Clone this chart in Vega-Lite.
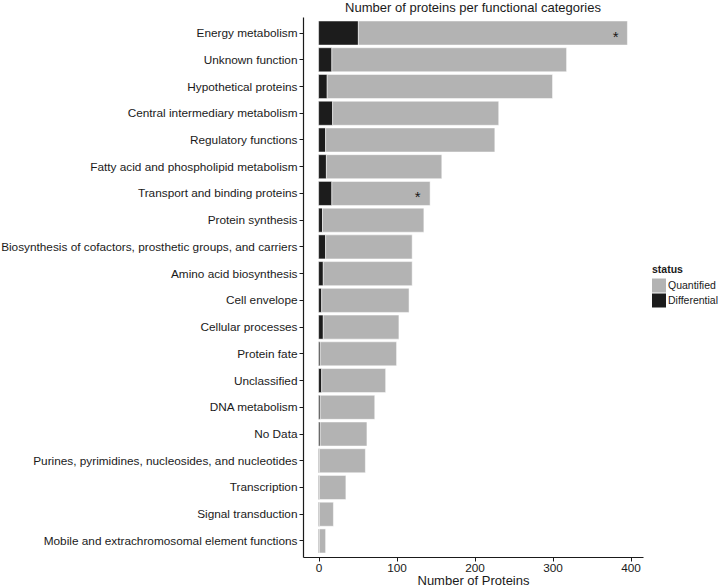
{
  "$schema": "https://vega.github.io/schema/vega-lite/v6.json",
  "width": 340,
  "height": 540,
  "padding": {"left": 0, "top": 2, "right": 0, "bottom": 0},
  "background": "white",
  "title": {"text": "Number of proteins per functional categories", "font": "Liberation Sans", "fontSize": 13, "fontWeight": "normal", "color": "#1a1a1a", "anchor": "middle", "offset": 2},
  "config": {
    "font": "Liberation Sans",
    "view": {"stroke": null},
    "axis": {"grid": false, "domainColor": "#1a1a1a", "domainWidth": 1.2, "tickColor": "#1a1a1a", "labelColor": "#1a1a1a", "labelFont": "Liberation Sans", "labelFontSize": 11.8, "titleFont": "Liberation Sans", "titleFontWeight": "normal", "titleColor": "#1a1a1a", "tickSize": 4, "labelPadding": 2}
  },
  "datasets": {
    "counts": [
      {"category": "Energy metabolism", "status": "Differential", "count": 51},
      {"category": "Energy metabolism", "status": "Quantified", "count": 345},
      {"category": "Unknown function", "status": "Differential", "count": 17},
      {"category": "Unknown function", "status": "Quantified", "count": 301},
      {"category": "Hypothetical proteins", "status": "Differential", "count": 11},
      {"category": "Hypothetical proteins", "status": "Quantified", "count": 289},
      {"category": "Central intermediary metabolism", "status": "Differential", "count": 18},
      {"category": "Central intermediary metabolism", "status": "Quantified", "count": 213},
      {"category": "Regulatory functions", "status": "Differential", "count": 9},
      {"category": "Regulatory functions", "status": "Quantified", "count": 217},
      {"category": "Fatty acid and phospholipid metabolism", "status": "Differential", "count": 10},
      {"category": "Fatty acid and phospholipid metabolism", "status": "Quantified", "count": 148},
      {"category": "Transport and binding proteins", "status": "Differential", "count": 17},
      {"category": "Transport and binding proteins", "status": "Quantified", "count": 126},
      {"category": "Protein synthesis", "status": "Differential", "count": 5},
      {"category": "Protein synthesis", "status": "Quantified", "count": 130},
      {"category": "Biosynthesis of cofactors, prosthetic groups, and carriers", "status": "Differential", "count": 9},
      {"category": "Biosynthesis of cofactors, prosthetic groups, and carriers", "status": "Quantified", "count": 111},
      {"category": "Amino acid biosynthesis", "status": "Differential", "count": 6},
      {"category": "Amino acid biosynthesis", "status": "Quantified", "count": 114},
      {"category": "Cell envelope", "status": "Differential", "count": 4},
      {"category": "Cell envelope", "status": "Quantified", "count": 112},
      {"category": "Cellular processes", "status": "Differential", "count": 6},
      {"category": "Cellular processes", "status": "Quantified", "count": 97},
      {"category": "Protein fate", "status": "Differential", "count": 2},
      {"category": "Protein fate", "status": "Quantified", "count": 98},
      {"category": "Unclassified", "status": "Differential", "count": 4},
      {"category": "Unclassified", "status": "Quantified", "count": 82},
      {"category": "DNA metabolism", "status": "Differential", "count": 2},
      {"category": "DNA metabolism", "status": "Quantified", "count": 70},
      {"category": "No Data", "status": "Differential", "count": 2},
      {"category": "No Data", "status": "Quantified", "count": 60},
      {"category": "Purines, pyrimidines, nucleosides, and nucleotides", "status": "Differential", "count": 1},
      {"category": "Purines, pyrimidines, nucleosides, and nucleotides", "status": "Quantified", "count": 59},
      {"category": "Transcription", "status": "Differential", "count": 1},
      {"category": "Transcription", "status": "Quantified", "count": 34},
      {"category": "Signal transduction", "status": "Differential", "count": 1},
      {"category": "Signal transduction", "status": "Quantified", "count": 18},
      {"category": "Mobile and extrachromosomal element functions", "status": "Differential", "count": 1},
      {"category": "Mobile and extrachromosomal element functions", "status": "Quantified", "count": 8}
    ],
    "marks": [
      {"category": "Energy metabolism", "at": 381, "label": "*"},
      {"category": "Transport and binding proteins", "at": 127, "label": "*"}
    ]
  },
  "layer": [
    {
      "data": {"name": "counts"},
      "mark": {"type": "bar", "stroke": "white", "strokeWidth": 0.5},
      "encoding": {
        "y": {"field": "category", "type": "nominal", "sort": null,
              "scale": {"paddingInner": 0.1, "paddingOuter": 0.15},
              "axis": {"title": null, "labelLimit": 0}},
        "x": {"field": "count", "type": "quantitative", "stack": "zero",
              "scale": {"domain": [-20, 416], "nice": false, "zero": false},
              "axis": {"title": "Number of Proteins", "titleFontSize": 13, "values": [0, 100, 200, 300, 400], "titlePadding": 1, "labelPadding": 1}},
        "order": {"field": "status", "sort": "ascending"},
        "color": {"field": "status", "type": "nominal",
                  "scale": {"domain": ["Quantified", "Differential"], "range": ["#b3b3b3", "#1c1c1c"]},
                  "legend": {"title": "status", "orient": "none", "legendX": 349, "legendY": 248, "symbolType": "square", "symbolSize": 196, "symbolStrokeWidth": 0, "titleFontSize": 10.5, "titleFontWeight": "bold", "titleColor": "#1a1a1a", "labelFontSize": 10.5, "labelColor": "#1a1a1a", "rowPadding": 1, "labelOffset": 2, "titlePadding": 3}}
      }
    },
    {
      "data": {"name": "marks"},
      "mark": {"type": "text", "fontSize": 15, "color": "#1a1a1a", "baseline": "middle", "dy": 4},
      "encoding": {
        "y": {"field": "category", "type": "nominal", "sort": null},
        "x": {"field": "at", "type": "quantitative"},
        "text": {"field": "label"}
      }
    }
  ]
}
